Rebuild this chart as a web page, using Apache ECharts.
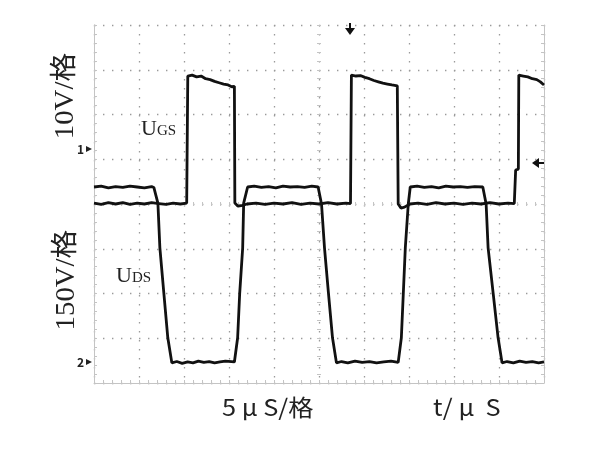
<!DOCTYPE html>
<html><head><meta charset="utf-8">
<script src="https://cdn.jsdelivr.net/npm/echarts@6/dist/echarts.min.js"></script>
<style>html,body{margin:0;padding:0;background:#fff}#c{width:611px;height:451px}</style>
</head><body><div id="c"></div>
<script>
// Time axis in microseconds (5 µs per division), amplitudes in screen divisions (0 = centre line)
const xTicks = [0, 5, 10, 15, 20, 25, 30, 35, 40, 45, 50];
const ugsTime = [0,0.8,1.6,2.4,3.2,4.0,4.8,5.6,6.4,7.2,8.0,8.8,9.6,10.3,
  10.42,10.9,11.4,11.9,12.4,12.9,13.4,13.9,14.4,14.9,15.3,15.6,
  15.65,16.0,16.5,17.0,18,19,20,21,22,23,24,25,26,27,28.0,28.5,
  28.6,29.1,29.6,30.1,30.6,31.1,31.6,32.1,32.6,33.1,33.7,
  33.8,34.1,34.5,35.1,36,37,38,39,40,41,42,43,44,45,46,46.7,
  46.85,47.15,47.2,47.7,48.2,48.7,49.2,49.6,50];
const ugsDiv = [0.02,-0.01,0.03,0.0,0.03,-0.01,0.02,0.0,0.03,0.01,-0.01,0.02,0.0,0.02,
  2.86,2.88,2.84,2.86,2.80,2.78,2.74,2.71,2.68,2.66,2.62,2.63,
  0.02,-0.05,-0.03,0.0,0.02,-0.01,0.02,0.0,0.03,-0.01,0.02,0.0,0.03,0.0,0.02,0.01,
  2.88,2.86,2.87,2.83,2.80,2.76,2.73,2.70,2.68,2.66,2.64,
  0.0,-0.09,-0.07,0.0,0.02,-0.01,0.03,0.0,0.02,-0.01,0.02,0.0,0.03,0.0,0.02,0.01,
  0.76,0.78,2.88,2.86,2.84,2.80,2.78,2.73,2.66];
const udsTime = [0,0.8,1.6,2.4,3.2,4.0,4.8,5.6,6.4,6.65,
  6.87,7.10,7.32,7.76,8.20,8.65,
  9.2,9.8,10.4,11.0,11.6,12.2,12.8,13.4,14.0,14.6,15.6,
  15.74,15.96,16.19,16.52,16.63,17.07,
  17.8,18.6,19.4,20.2,21.0,21.8,22.6,23.4,24.2,24.9,
  25.05,25.28,25.61,26.05,26.50,26.94,
  27.5,28.2,29.0,29.8,30.6,31.4,32.2,33.0,33.8,
  33.92,34.15,34.37,34.59,34.92,35.14,
  35.9,36.7,37.5,38.3,39.1,39.9,40.7,41.5,42.3,43.2,
  43.57,43.79,44.35,44.90,45.34,
  45.9,46.6,47.3,48.0,48.7,49.4,50];
const udsDiv = [0.38,0.40,0.36,0.39,0.37,0.40,0.38,0.36,0.39,0.37,
  0.20,0.02,-0.98,-1.99,-2.99,-3.55,
  -3.52,-3.56,-3.53,-3.55,-3.51,-3.54,-3.52,-3.55,-3.53,-3.51,-3.53,
  -3.55,-2.99,-1.99,-0.98,0.02,0.38,
  0.40,0.37,0.39,0.36,0.40,0.38,0.39,0.37,0.40,0.38,
  0.38,0.0,-0.98,-1.99,-2.99,-3.55,
  -3.52,-3.55,-3.51,-3.54,-3.52,-3.55,-3.53,-3.51,-3.54,
  -3.53,-2.99,-1.99,-0.98,0.0,0.38,
  0.40,0.37,0.39,0.36,0.40,0.38,0.39,0.37,0.39,0.38,
  0.0,-0.98,-1.99,-2.99,-3.55,
  -3.52,-3.55,-3.51,-3.54,-3.52,-3.55,-3.53];
const labels = {ugsScale:'10V/格', udsScale:'150V/格', time:'5 μ S/格', unit:'t/ μ  S'};

const zip = (a, b) => a.map((v, i) => [v, b[i]]);
const gray = '#c4c4c4', dotC = '#9a9a9a';
const serif = "'Liberation Serif','DejaVu Serif','Noto Sans CJK SC',serif";
const sans = "'Noto Sans CJK SC','DejaVu Sans',sans-serif";
const dotLine = {show:true, lineStyle:{color:dotC, width:1.3, type:[1.4,7.6]}};
const tick = {show:true, inside:true, length:3, lineStyle:{color:gray}};
const minor = {show:true, splitNumber:5, length:3, lineStyle:{color:gray}};

const chart = echarts.init(document.getElementById('c'), null, {renderer:'canvas'});
chart.setOption({
  animation:false,
  backgroundColor:'#fff',
  grid:[
    {left:94, top:25, width:450, height:358},
    {left:317, top:25, width:4, height:358},
    {left:94, top:202, width:450, height:4}
  ],
  xAxis:[
    {gridIndex:0, type:'value', min:xTicks[0], max:xTicks[xTicks.length-1], interval:5, position:'bottom',
     axisLine:{show:true, onZero:false, lineStyle:{color:gray}}, axisTick:tick, minorTick:minor,
     axisLabel:{show:false}, splitLine:dotLine},
    {gridIndex:0, type:'value', min:0, max:50, interval:5, position:'top',
     axisLine:{show:false}, axisTick:{show:false}, axisLabel:{show:false}, splitLine:{show:false}},
    {gridIndex:1, type:'value', min:0, max:1, show:false},
    {gridIndex:2, type:'value', min:0, max:50, interval:5, position:'top',
     axisLine:{show:false, onZero:false}, axisTick:{show:true, inside:true, length:4, lineStyle:{color:gray}},
     minorTick:{show:true, splitNumber:5, length:4, lineStyle:{color:gray}}, axisLabel:{show:false}, splitLine:{show:false}}
  ],
  yAxis:[
    {gridIndex:0, type:'value', min:-4, max:4, interval:1, position:'left',
     axisLine:{show:true, onZero:false, lineStyle:{color:gray}}, axisTick:tick, minorTick:minor,
     axisLabel:{show:false}, splitLine:dotLine},
    {gridIndex:0, type:'value', min:-4, max:4, interval:1, position:'right',
     axisLine:{show:true, onZero:false, lineStyle:{color:gray}}, axisTick:tick, minorTick:minor,
     axisLabel:{show:false}, splitLine:{show:false}},
    {gridIndex:1, type:'value', min:-4, max:4, interval:1, position:'left',
     axisLine:{show:false, onZero:false}, axisTick:{show:true, inside:true, length:4, lineStyle:{color:gray}},
     minorTick:{show:true, splitNumber:5, length:4, lineStyle:{color:gray}}, axisLabel:{show:false}, splitLine:{show:false}},
    {gridIndex:2, type:'value', min:0, max:1, show:false}
  ],
  series:[
    {name:'UGS', type:'line', xAxisIndex:0, yAxisIndex:0, data:zip(ugsTime, ugsDiv), showSymbol:false,
     lineStyle:{color:'#111', width:2.8}, z:5},
    {name:'UDS', type:'line', xAxisIndex:0, yAxisIndex:0, data:zip(udsTime, udsDiv), showSymbol:false,
     lineStyle:{color:'#111', width:2.8}, z:5}
  ],
  graphic:[
    {type:'text', x:66, y:96, rotation:Math.PI/2, scaleX:1.2, scaleY:1.15,
     style:{text:labels.ugsScale, font:'24px '+serif, fill:'#222', align:'center', verticalAlign:'middle'}},
    {type:'text', x:67, y:280, rotation:Math.PI/2, scaleX:1.2, scaleY:1.15,
     style:{text:labels.udsScale, font:'24px '+serif, fill:'#222', align:'center', verticalAlign:'middle'}},
    {type:'text', x:141, y:140,
     style:{text:'{u|U}{s|GS}', align:'left', verticalAlign:'bottom',
       rich:{u:{font:'22px '+serif, fill:'#222', verticalAlign:'bottom'}, s:{font:'15px '+serif, fill:'#222', verticalAlign:'bottom', padding:[0,0,1,0]}}}},
    {type:'text', x:116, y:287,
     style:{text:'{u|U}{s|DS}', align:'left', verticalAlign:'bottom',
       rich:{u:{font:'22px '+serif, fill:'#222', verticalAlign:'bottom'}, s:{font:'15px '+serif, fill:'#222', verticalAlign:'bottom', padding:[0,0,1,0]}}}},
    {type:'text', x:222, y:407, scaleX:1.1,
     style:{text:labels.time, font:'23px '+sans, fill:'#222', align:'left', verticalAlign:'middle'}},
    {type:'text', x:433, y:407, scaleX:1.1,
     style:{text:labels.unit, font:'23px '+sans, fill:'#222', align:'left', verticalAlign:'middle'}},
    {type:'text', x:77, y:149,
     style:{text:'1', font:'bold 12px '+sans, fill:'#222', align:'left', verticalAlign:'middle'}},
    {type:'polygon', shape:{points:[[86,146],[86,152],[92,149]]}, style:{fill:'#222'}},
    {type:'text', x:77, y:362,
     style:{text:'2', font:'bold 12px '+sans, fill:'#222', align:'left', verticalAlign:'middle'}},
    {type:'polygon', shape:{points:[[86,359],[86,365],[92,362]]}, style:{fill:'#222'}},
    {type:'line', shape:{x1:350, y1:23, x2:350, y2:30}, style:{stroke:'#111', lineWidth:2}},
    {type:'polygon', shape:{points:[[345,28],[355,28],[350,35]]}, style:{fill:'#111'}},
    {type:'line', shape:{x1:538, y1:163, x2:545, y2:163}, style:{stroke:'#111', lineWidth:2}},
    {type:'polygon', shape:{points:[[539,158],[539,168],[532,163]]}, style:{fill:'#111'}}
  ]
});
</script></body></html>
